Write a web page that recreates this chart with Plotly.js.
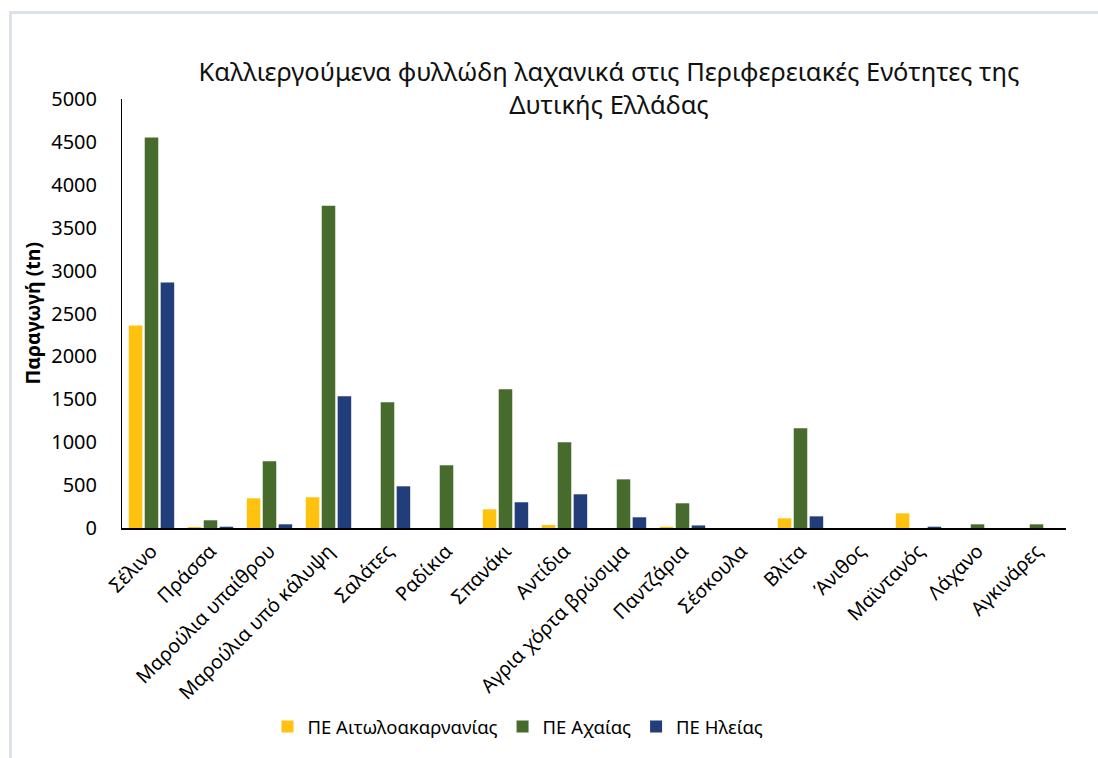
<!DOCTYPE html>
<html>
<head>
<meta charset="utf-8">
<script src="https://cdn.plot.ly/plotly-3.0.1.min.js"></script>
<style>
html,body{margin:0;padding:0;background:#fff;}
#wrap{position:relative;width:1098px;height:758px;overflow:hidden;}
#frame{position:absolute;left:9px;top:11px;width:1200px;height:900px;border-left:3px solid #dde2ea;border-top:3px solid #dde2ea;pointer-events:none;z-index:5;}
#chart{position:absolute;left:0;top:0;width:1098px;height:758px;}
</style>
</head>
<body>
<div id="wrap"><div id="chart"></div><div id="frame"></div></div>
<script>
const categories = ["Σέλινο","Πράσσα","Μαρούλια υπαίθρου","Μαρούλια υπό κάλυψη","Σαλάτες","Ραδίκια","Σπανάκι","Αντίδια","Αγρια χόρτα βρώσιμα","Παντζάρια","Σέσκουλα","Βλίτα","Άνιθος","Μαϊντανός","Λάχανο","Αγκινάρες"];
const aitoloakarnania = [2360, 12, 346, 358, 0, 0, 218, 35, 0, 15, 0, 113, 0, 171, 0, 0];
const achaia = [4550, 90, 777, 3755, 1465, 731, 1616, 1000, 567, 288, 0, 1162, 0, 0, 43, 43];
const ileia = [2860, 15, 43, 1535, 486, 0, 300, 393, 125, 30, 0, 136, 0, 15, 0, 0];
const seriesNames = ["ΠΕ Αιτωλοακαρνανίας","ΠΕ Αχαίας","ΠΕ Ηλείας"];
const yTicks = [0,500,1000,1500,2000,2500,3000,3500,4000,4500,5000];

const FONT = "Noto Sans, Open Sans, sans-serif";
const colors = ["#FFC20E", "#466B2C", "#213E7A"];
const seriesVals = [aitoloakarnania, achaia, ileia];

const traces = seriesVals.map((v, i) => ({
  type: "bar",
  name: seriesNames[i],
  x: categories,
  y: v,
  marker: {color: colors[i], line: {width: 0}},
  hoverinfo: "x+y+name"
}));

const layout = {
  width: 1098, height: 758,
  margin: {l: 122, r: 32, t: 99, b: 230},
  paper_bgcolor: "#ffffff",
  plot_bgcolor: "#ffffff",
  font: {family: FONT, color: "#000", size: 19},
  barmode: "group",
  bargap: 0.19,
  bargroupgap: 0.15,
  title: {
    text: "Καλλιεργούμενα φυλλώδη λαχανικά στις Περιφερειακές Ενότητες της<br>Δυτικής Ελλάδας",
    font: {family: FONT, size: 25.5, color: "#111"},
    x: (609 - 122) / 944, xanchor: "center", xref: "paper",
    y: 1 - 81 / 758, yanchor: "middle"
  },
  xaxis: {
    type: "category",
    tickangle: -45,
    tickfont: {family: FONT, size: 19.5, color: "#000"},
    showline: true, linecolor: "#000", linewidth: 2,
    ticks: "", showgrid: false, zeroline: false,
    ticklabelstandoff: 2
  },
  yaxis: {
    range: [0, 5000],
    tickvals: yTicks,
    ticktext: yTicks.map(String),
    tickfont: {family: FONT, size: 20, color: "#000"},
    showline: true, linecolor: "#000", linewidth: 1,
    ticks: "", showgrid: false, zeroline: false,
    ticklabelstandoff: 20
  },
  showlegend: true,
  legend: {
    orientation: "h",
    x: (518 - 122) / 944, xanchor: "center",
    y: -(727 - 528) / 429, yanchor: "middle",
    font: {family: FONT, size: 18.5, color: "#000"},
    itemwidth: 30,
    traceorder: "normal"
  },
  annotations: [{
    text: "<b>Παραγωγή (tn)</b>",
    xref: "paper", yref: "paper",
    x: (32 - 122) / 944, y: 0.5,
    xanchor: "center", yanchor: "middle",
    textangle: -90, showarrow: false,
    font: {family: FONT, size: 19.5, color: "#000"}
  }]
};

Plotly.newPlot("chart", traces, layout, {displayModeBar: false, staticPlot: true});
</script>
</body>
</html>
